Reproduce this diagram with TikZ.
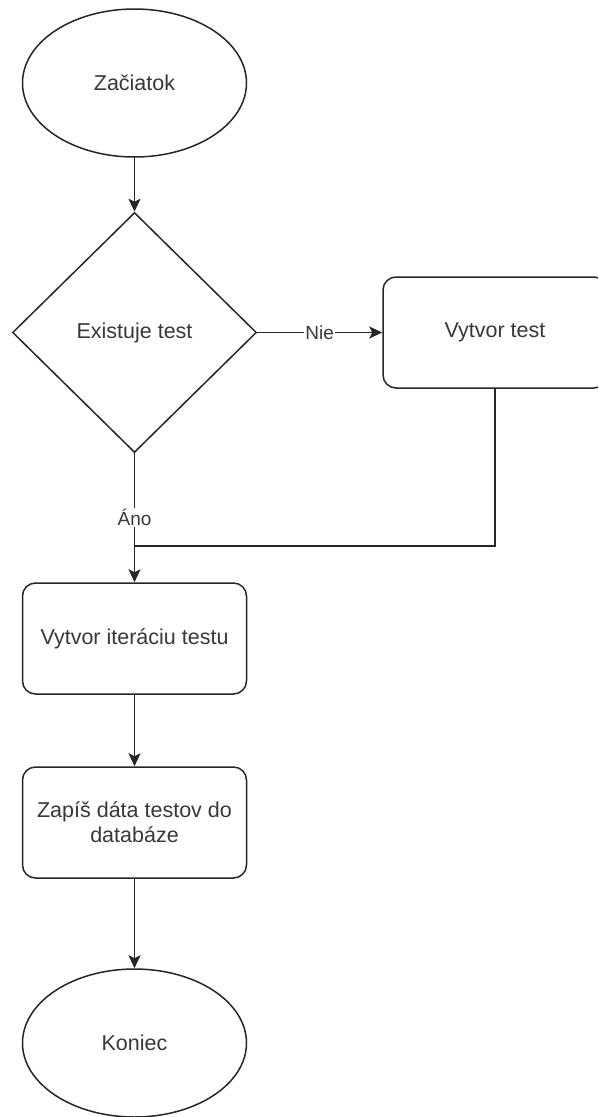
\documentclass[tikz,border=0pt]{standalone}
\usepackage{fontspec}
\setmainfont{Liberation Sans}
\usetikzlibrary{shapes.geometric,arrows.meta}
\begin{document}
\begin{tikzpicture}[x=1pt,y=-1pt,
  every node/.style={font=\fontsize{21.5}{25}\selectfont, text=black!78},
  line/.style={draw=black!85, line width=1.8pt},
  flow/.style={line, -{Stealth[length=13pt,width=12pt,inset=3pt]}},
  terminal/.style={ellipse, draw=black!85, line width=1.5pt, fill=white,
    minimum width=224pt, minimum height=148pt, inner sep=0pt},
  decision/.style={diamond, draw=black!85, line width=1.5pt, fill=white,
    minimum width=244pt, minimum height=240pt, inner sep=0pt},
  process/.style={rectangle, rounded corners=13pt, draw=black!85, line width=1.5pt,
    fill=white, minimum width=224pt, minimum height=111pt, inner sep=2pt, align=center},
  lbl/.style={fill=white, inner sep=1pt, font=\fontsize{19}{22}\selectfont}
]
\useasboundingbox (0,0) rectangle (598,1117);
\begin{scope}
\clip (0,0) rectangle (598,1117);

\node[terminal] (start) at (134.5,83) {Začiatok};
\node[decision] (exists) at (134.5,332.5) {Existuje test};
\node[process] (create) at (495,332.5) {Vytvor test};
\node[process] (iter) at (134.5,638.5) {Vytvor iteráciu testu};
\node[process] (store) at (134.5,822.5) {Zapíš dáta testov do\\databáze};
\node[terminal] (finish) at (134.5,1043) {Koniec};

\coordinate (join) at (134.5,546);

\draw[flow] (start) -- (exists);
\draw[flow] (exists.east) -- node[lbl] {Nie} (create.west);
\draw[flow] (exists.south) -- node[lbl] {Áno} (iter.north);
\draw[line] (create.south) |- (join);
\draw[flow] (iter) -- (store);
\draw[flow] (store) -- (finish);
\end{scope}
\end{tikzpicture}
\end{document}
